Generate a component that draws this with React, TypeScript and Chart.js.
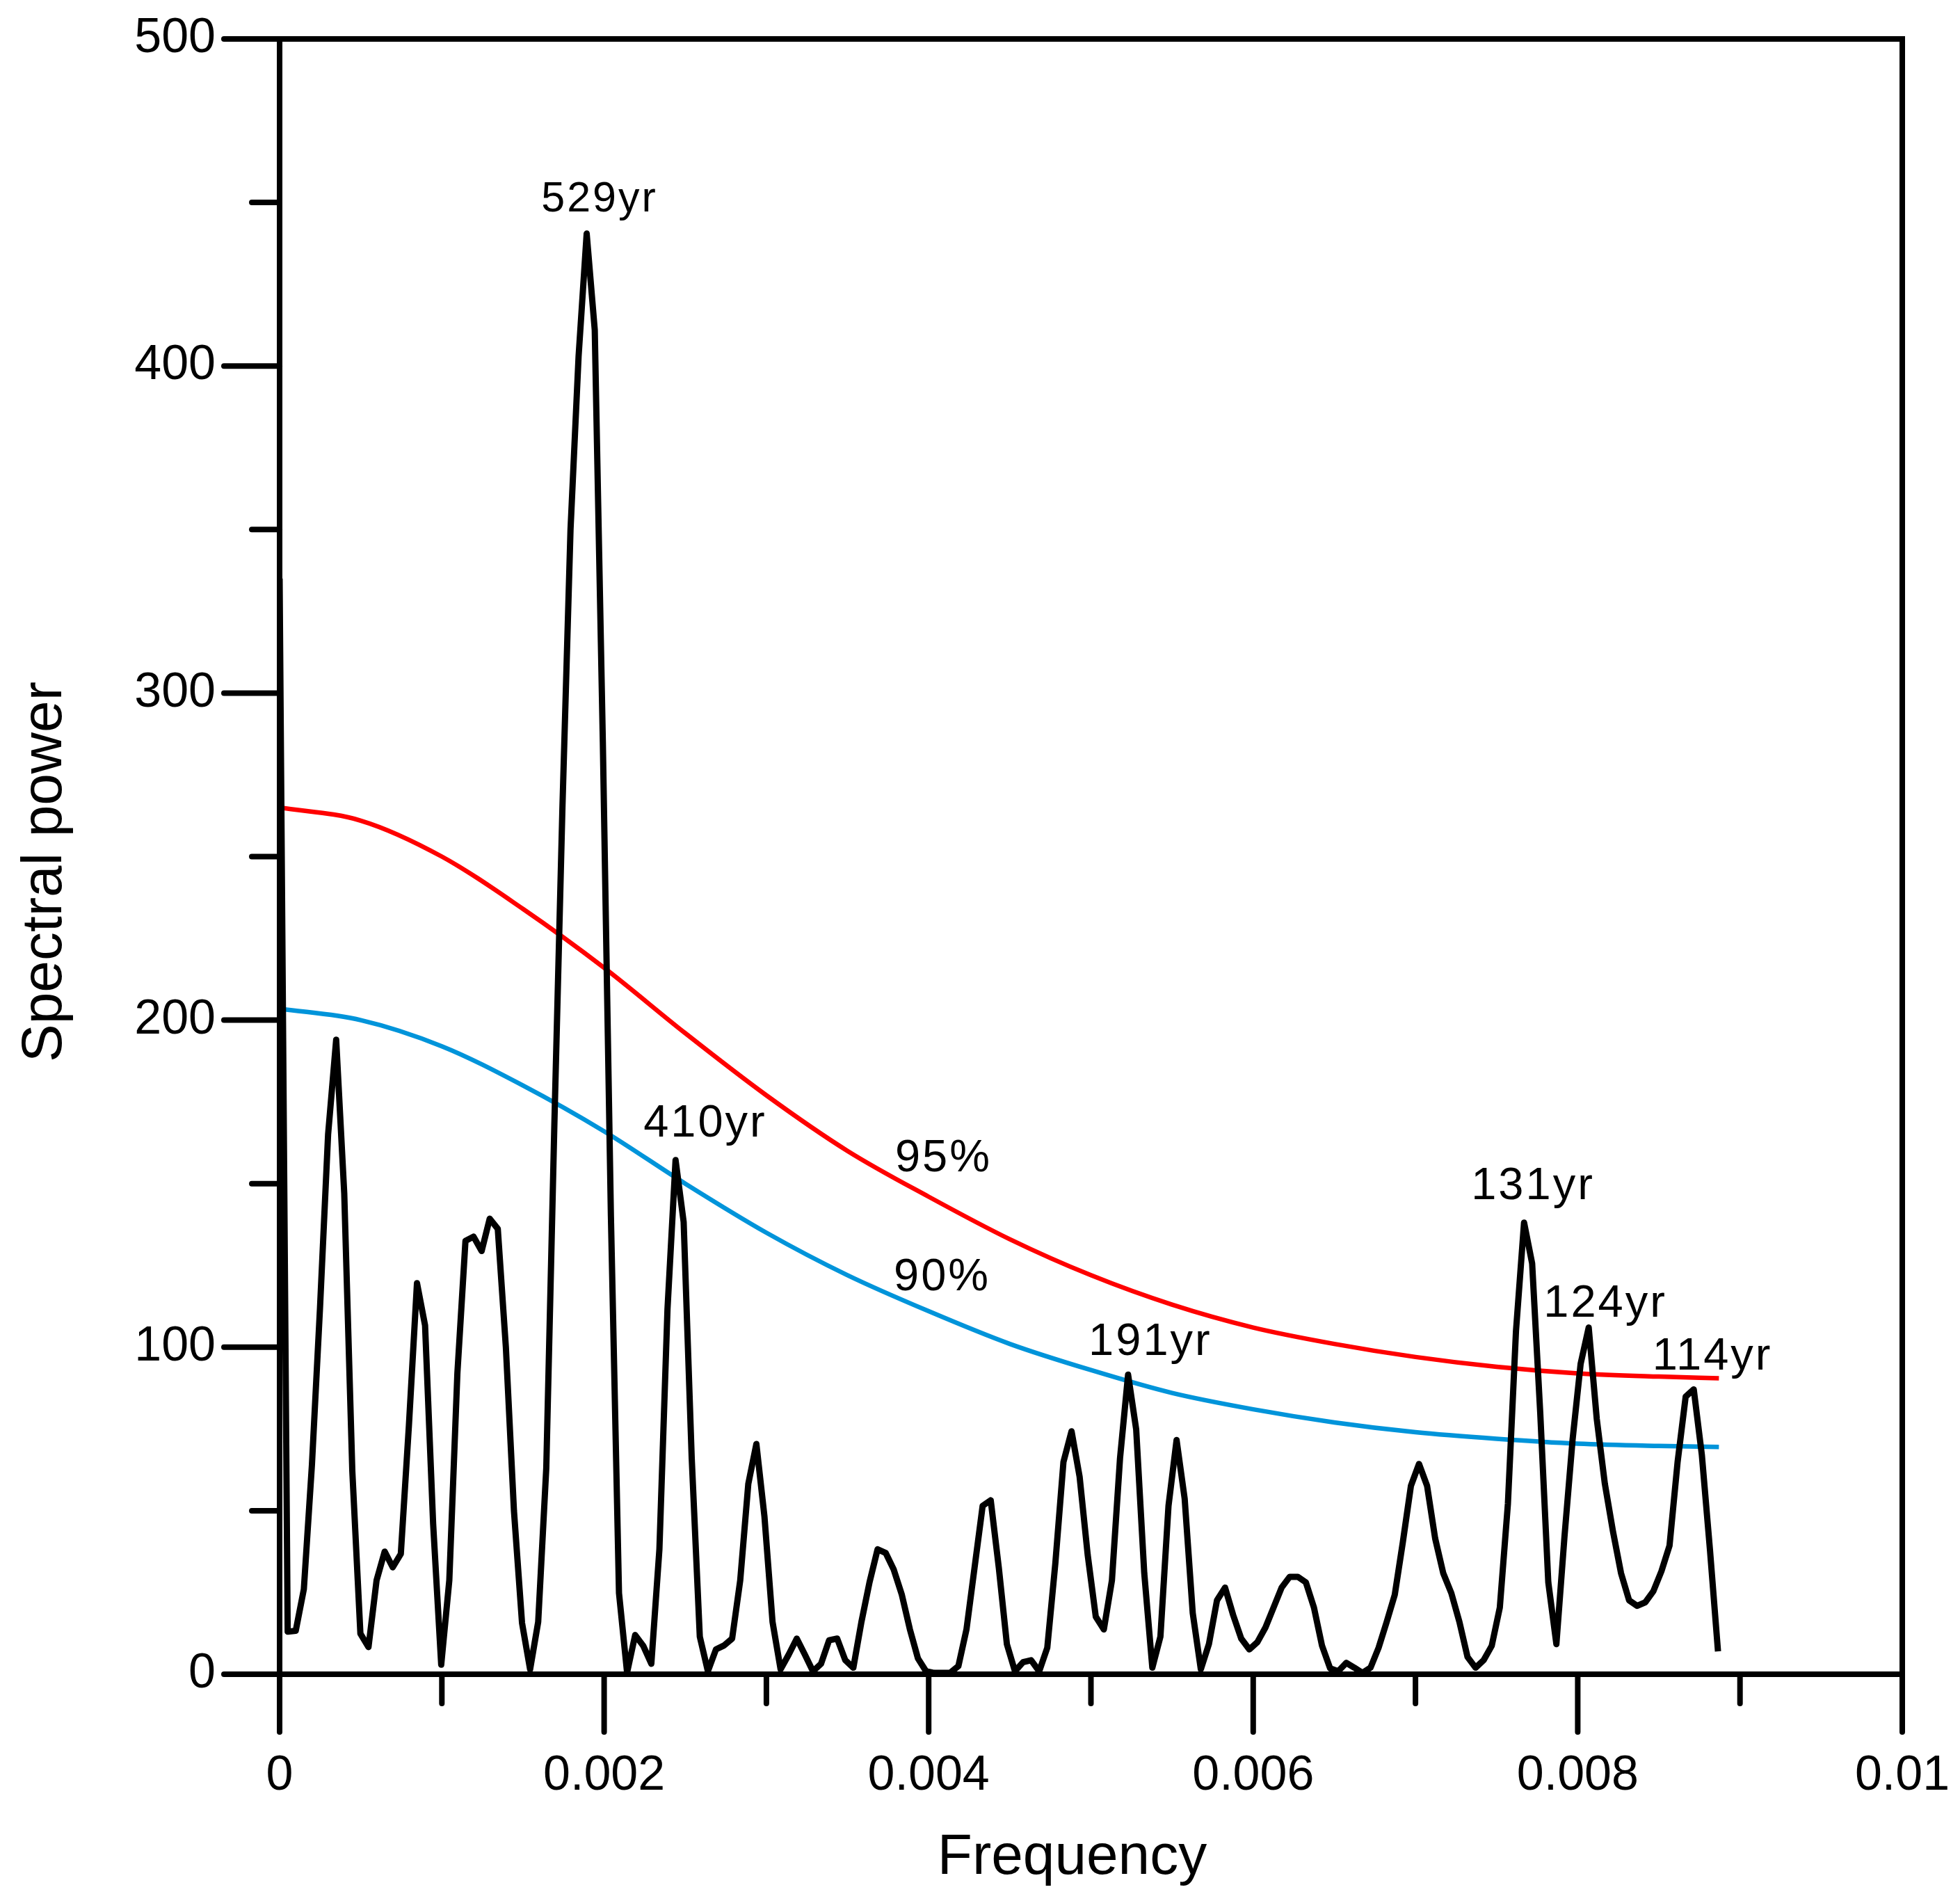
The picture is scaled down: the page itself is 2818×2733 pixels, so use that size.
import { useEffect, useRef } from 'react';
import { Chart, registerables } from 'chart.js';

Chart.register(...registerables);

const W = 2818;
const H = 2733;
const FONT = "'Liberation Sans', Arial, sans-serif";

// spectrum, one value per frequency step
const freqStep = 0.0000498;
const spectralPower = [
  335, 13, 13.3, 26, 64, 112, 165, 194, 147, 62,
  12.4, 8.3, 28.7, 37.5, 32.7, 36.8, 76, 119.6, 106.7, 46,
  2.9, 28.7, 92, 132.5, 133.8, 129.4, 139.3, 136.2, 100, 50,
  15.7, 1.5, 16, 63, 168, 265, 350, 403, 440.5, 411,
  285, 140, 24.8, 0.5, 12, 8.7, 3.2, 38.2, 111.6, 157.2,
  138.3, 66, 11.5, 0.9, 7.6, 8.8, 10.9, 28.7, 58.2, 70.4,
  48.2, 16, 1.5, 6, 10.9, 6, 0.9, 3.2, 10.4, 10.9,
  4.3, 2, 16, 28.1, 38.2, 37.1, 32, 24.3, 13.7, 4.8,
  0.9, 0.4, 0.4, 0.5, 2.5, 13.7, 32.6, 51.5, 53.2, 32.6,
  9.2, 0.9, 3.7, 4.3, 0.9, 8.1, 34, 64.9, 74.3, 60.4,
  36.5, 17.6, 13.7, 28.7, 66, 91.6, 74.9, 30.9, 2, 11.5,
  51.5, 71.6, 53.7, 18.7, 1.5, 9.2, 22.6, 26.5, 18.1, 10.9,
  7.6, 9.8, 14.3, 20.4, 26.5, 29.8, 29.8, 28.1, 20.4, 8.7,
  1.8, 0.9, 3.5, 2, 0.4, 2, 8.1, 16, 24.3, 40.4,
  57.6, 64.3, 57.6, 41.5, 30.9, 24.8, 16, 5.3, 2, 4.3,
  8.7, 20.4, 52.1, 104.9, 138.1, 125.6, 80, 28.1, 9.2, 42,
  71.6, 94.9, 106, 78, 58.2, 43.7, 30.9, 22.6, 20.9, 22,
  25.4, 31.5, 39.3, 64.9, 84.9, 87.1, 67.1, 38.2, 7,
];

// confidence levels
const levelFreq = [
  0, 0.0005, 0.001, 0.0015, 0.002, 0.0025, 0.003, 0.0035, 0.004, 0.0045,
  0.005, 0.0055, 0.006, 0.0065, 0.007, 0.0075, 0.008, 0.0085, 0.00887,
];
const level95 = [265, 261, 250, 234, 216, 196, 177, 160, 146, 133, 122, 113, 106, 101, 97, 94, 92, 91, 90.5];
const level90 = [203.5, 200, 192, 180, 166, 150, 135, 122, 111, 101, 93, 86, 81, 77, 74, 72, 70.5, 69.8, 69.5];

const yMajorTicks = [0, 100, 200, 300, 400, 500];
const yMinorTicks = [50, 150, 250, 350, 450];
const xMajorTicks = [0, 0.002, 0.004, 0.006, 0.008, 0.01];
const xMinorTicks = [0.001, 0.003, 0.005, 0.007, 0.009];

const noteText = ['529yr', '410yr', '95%', '90%', '191yr', '131yr', '124yr', '114yr'];
const noteFreq = [0.001972, 0.002623, 0.003793, 0.003785, 0.005366, 0.007724, 0.00817, 0.00883];
const notePower = [447.3, 164.4, 153.8, 117.4, 97.6, 145.3, 109.3, 93.2];
const noteAlign = ['center', 'center', 'left', 'left', 'center', 'center', 'center', 'center'];
const noteSize = [61, 65, 65, 65, 65, 65, 65, 65];

const xTitle = 'Frequency';
const yTitle = 'Spectral power';

const framePlugin = {
  id: 'frame',
  afterDatasetsDraw(chart: any) {
    const { ctx, chartArea: a, scales } = chart;
    const x = scales.x;
    const y = scales.y;
    ctx.save();
    ctx.strokeStyle = '#000';
    ctx.lineWidth = 8;
    ctx.lineCap = 'square';
    ctx.strokeRect(a.left, a.top, a.right - a.left, a.bottom - a.top);
    ctx.lineCap = 'round';
    const seg = (x1: number, y1: number, x2: number, y2: number) => {
      ctx.beginPath();
      ctx.moveTo(x1, y1);
      ctx.lineTo(x2, y2);
      ctx.stroke();
    };
    yMajorTicks.forEach((v) => { const p = y.getPixelForValue(v); seg(a.left - 80, p, a.left, p); });
    yMinorTicks.forEach((v) => { const p = y.getPixelForValue(v); seg(a.left - 40, p, a.left, p); });
    xMajorTicks.forEach((v) => { const p = x.getPixelForValue(v); seg(p, a.bottom, p, a.bottom + 83); });
    xMinorTicks.forEach((v) => { const p = x.getPixelForValue(v); seg(p, a.bottom, p, a.bottom + 42); });

    ctx.fillStyle = '#000';
    ctx.textBaseline = 'alphabetic';

    // axis titles
    ctx.font = `82px ${FONT}`;
    ctx.textAlign = 'center';
    ctx.fillText(xTitle, (a.left + a.right) / 2 - 27, a.bottom + 287);
    ctx.save();
    ctx.translate(88, (a.top + a.bottom) / 2 + 22);
    ctx.rotate(-Math.PI / 2);
    ctx.fillText(yTitle, 0, 0);
    ctx.restore();

    (ctx as any).letterSpacing = '3px';
    noteText.forEach((t, i) => {
      ctx.font = `${noteSize[i]}px ${FONT}`;
      ctx.textAlign = noteAlign[i];
      ctx.fillText(t, x.getPixelForValue(noteFreq[i]), y.getPixelForValue(notePower[i]));
    });
    ctx.restore();
  },
};

export default function App() {
  const canvasRef = useRef<HTMLCanvasElement>(null);

  useEffect(() => {
    const ctx = canvasRef.current!.getContext('2d')!;

    const chart = new Chart(ctx, {
      type: 'line',
      data: {
        datasets: [
          {
            label: 'Spectral power',
            data: spectralPower.map((v, i) => ({ x: i * freqStep, y: v })),
            borderColor: '#000',
            borderWidth: 9,
            borderJoinStyle: 'round',
            tension: 0,
            pointRadius: 0,
          },
          {
            label: '95%',
            data: levelFreq.map((f, i) => ({ x: f, y: level95[i] })),
            borderColor: '#ff0000',
            borderWidth: 6.5,
            cubicInterpolationMode: 'monotone',
            pointRadius: 0,
          },
          {
            label: '90%',
            data: levelFreq.map((f, i) => ({ x: f, y: level90[i] })),
            borderColor: '#0094da',
            borderWidth: 6.5,
            cubicInterpolationMode: 'monotone',
            pointRadius: 0,
          },
        ],
      },
      options: {
        animation: false,
        responsive: false,
        devicePixelRatio: 1,
        layout: { padding: { top: 56, right: 83, left: 0, bottom: 0 } },
        plugins: { legend: { display: false }, tooltip: { enabled: false } },
        scales: {
          x: {
            type: 'linear',
            min: 0,
            max: 0.01,
            grid: { display: false, drawTicks: false },
            border: { display: false },
            ticks: {
              stepSize: 0.002,
              padding: 105,
              color: '#000',
              autoSkip: false,
              maxRotation: 0,
              font: { family: FONT, size: 70 },
              callback: (v: any) => String(+Number(v).toFixed(4)),
            },
            afterFit: (s: any) => {
              s.height = 326;
              s.paddingLeft = 0;
              s.paddingRight = 0;
            },
          },
          y: {
            min: 0,
            max: 500,
            grid: { display: false, drawTicks: false },
            border: { display: false },
            ticks: {
              stepSize: 100,
              padding: 92,
              color: '#000',
              autoSkip: false,
              font: { family: FONT, size: 70 },
            },
            afterFit: (s: any) => {
              s.width = 402;
              s.paddingTop = 0;
              s.paddingBottom = 0;
            },
          },
        },
      },
      plugins: [framePlugin],
    } as any);

    return () => {
      chart.destroy();
    };
  }, []);

  return (
    <div style={{ position: 'absolute', left: 0, top: 0, width: W, height: H, background: '#fff' }}>
      <canvas ref={canvasRef} width={W} height={H} style={{ display: 'block' }} />
    </div>
  );
}
